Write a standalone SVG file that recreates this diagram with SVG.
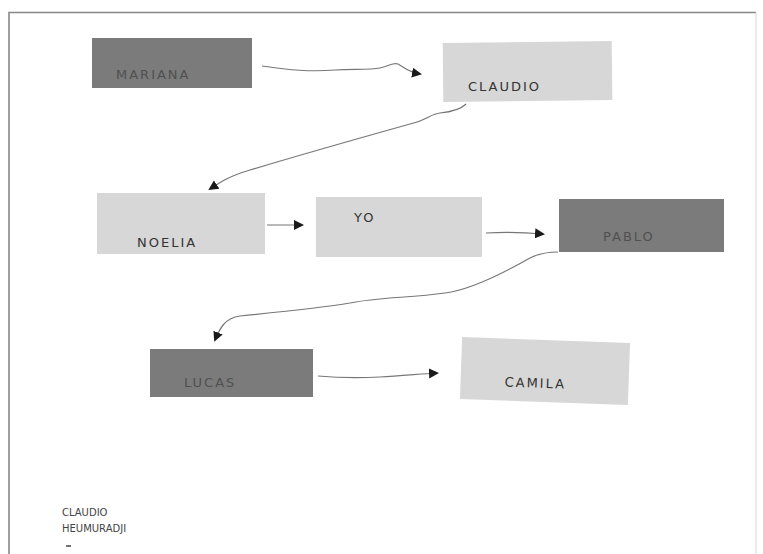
<svg xmlns="http://www.w3.org/2000/svg" width="763" height="554" viewBox="0 0 763 554">
<defs>
<style>
.dark{fill:#7b7b7b}
.light{fill:#d7d7d7}
.lbl{font-family:"DejaVu Sans",sans-serif;font-size:13px;letter-spacing:2px;fill:#333}
.lbld{font-family:"DejaVu Sans",sans-serif;font-size:13px;letter-spacing:2px;fill:#505050}
.conn{fill:none;stroke:#777;stroke-width:1.2}
.sig{font-family:"DejaVu Sans",sans-serif;font-size:10px;fill:#444}
</style>
<marker id="ah" markerWidth="12" markerHeight="12" refX="8" refY="6" orient="auto" markerUnits="userSpaceOnUse">
<path d="M0,1 L10,6 L0,11 Z" fill="#1a1a1a"/>
</marker>
</defs>
<rect width="763" height="554" fill="#fff"/>
<path d="M9,554 L9,12.5 L756,12.5" fill="none" stroke="#888" stroke-width="1.6"/>
<path d="M756,12.5 L756,554" fill="none" stroke="#ddd" stroke-width="1.2"/>
<g id="mariana"><rect class="dark" x="92" y="38" width="160" height="50"/><text class="lbld" x="116" y="79">MARIANA</text></g>
<g id="claudio"><rect class="light" x="443" y="42" width="169" height="59" transform="rotate(-0.6 527 71)"/><text class="lbl" x="468" y="91">CLAUDIO</text></g>
<g id="noelia"><rect class="light" x="97" y="193" width="168" height="61"/><text class="lbl" x="137" y="247">NOELIA</text></g>
<g id="yo"><rect class="light" x="316" y="197" width="166" height="60"/><text class="lbl" x="354" y="222">YO</text></g>
<g id="pablo"><rect class="dark" x="559" y="199" width="165" height="53"/><text class="lbld" x="603" y="241">PABLO</text></g>
<g id="lucas"><rect class="dark" x="150" y="349" width="163" height="48"/><text class="lbld" x="184" y="387">LUCAS</text></g>
<g id="camila"><rect class="light" x="461" y="340" width="168" height="62" transform="rotate(2 545 371)"/><text class="lbl" x="505" y="388" transform="rotate(2 545 371)">CAMILA</text></g>
<g id="connectors">
<path class="conn" marker-end="url(#ah)" d="M262,66 C290,70 310,72 335,70 C355,69 370,70 380,68 C390,66 393,62 398,64 C404,67 408,72 420,74"/>
<path class="conn" marker-end="url(#ah)" d="M466,104 C460,110 450,112 440,113 C430,114 428,120 410,124 C360,138 300,155 250,170 C230,176 222,181 210,189"/>
<path class="conn" marker-end="url(#ah)" d="M267,225 L302,225"/>
<path class="conn" marker-end="url(#ah)" d="M486,233 C505,232 520,232 543,234"/>
<path class="conn" marker-end="url(#ah)" d="M558,252 C545,252 538,254 530,258 C500,275 470,290 445,293 C410,298 380,297 350,303 C320,308 280,312 240,316 C225,318 220,328 215,340"/>
<path class="conn" marker-end="url(#ah)" d="M318,376 C340,378 360,378 380,377 C400,376 420,374 437,373"/>
</g>
<g id="signature">
<text class="sig" x="62" y="516">CLAUDIO</text>
<text class="sig" x="62" y="532">HEUMURADJI</text>
<path d="M66,546 L71,546" stroke="#444" stroke-width="1.5"/>
</g>
</svg>
